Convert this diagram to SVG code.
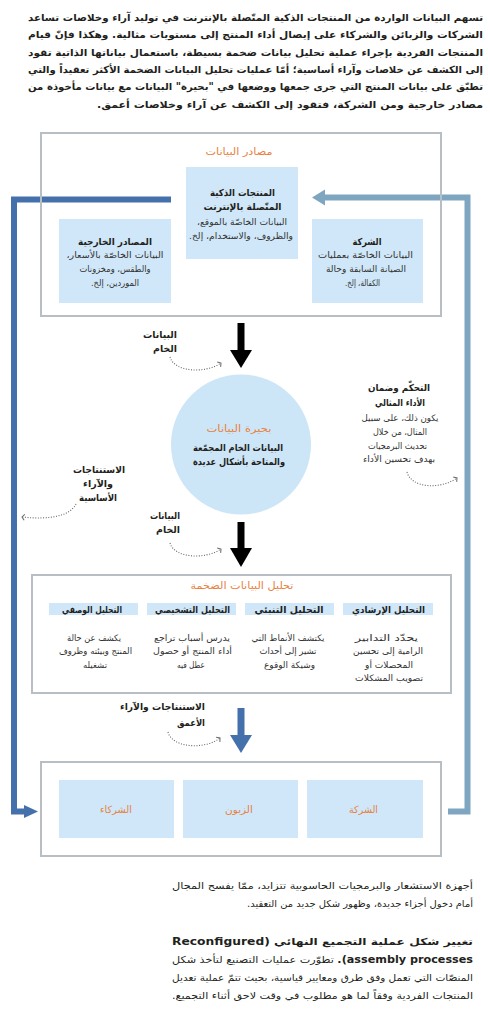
<svg xmlns="http://www.w3.org/2000/svg" width="490" height="1024" viewBox="0 0 490 1024">
<style>
text{font-family:"DejaVu Sans",sans-serif;fill:#231f20;direction:rtl;unicode-bidi:embed;text-anchor:middle}
.b{font-weight:bold}
.o{fill:#e8823f}
.p{font-size:9.8px;font-weight:bold}
.q{font-size:9.6px}
.h{font-size:9.5px;font-weight:bold}
.s{font-size:8.8px;fill:#333}
.ti{font-size:10px}
.box{fill:#cfe7f8}
.frame{fill:none;stroke:#b7bec4;stroke-width:2}
.dot{fill:none;stroke:#666;stroke-width:1.1;stroke-dasharray:1 1.6;marker-end:url(#m)}
</style>
<defs>
<marker id="m" markerWidth="8" markerHeight="8" refX="4" refY="4" orient="auto" markerUnits="userSpaceOnUse">
<path d="M1.5,1 L4,4 L1.5,7" fill="none" stroke="#666" stroke-width="1"/>
</marker>
</defs>
<rect width="490" height="1024" fill="#fff"/>

<g id="intro">
<text class="p" x="255.5" y="21" textLength="455" lengthAdjust="spacingAndGlyphs">تسهم البيانات الواردة من المنتجات الذكية المتّصلة بالإنترنت في توليد آراء وخلاصات تساعد</text>
<text class="p" x="255.5" y="38.3" textLength="455" lengthAdjust="spacingAndGlyphs">الشركات والزبائن والشركاء على إيصال أداء المنتج إلى مستويات مثالية. وهكذا فإنّ قيام</text>
<text class="p" x="255.5" y="55.6" textLength="455" lengthAdjust="spacingAndGlyphs">المنتجات الفردية بإجراء عملية تحليل بيانات ضخمة بسيطة، باستعمال بياناتها الذاتية تقود</text>
<text class="p" x="255.5" y="72.9" textLength="455" lengthAdjust="spacingAndGlyphs">إلى الكشف عن خلاصات وآراء أساسية؛ أمّا عمليات تحليل البيانات الضخمة الأكثر تعقيداً والتي</text>
<text class="p" x="255.5" y="90.2" textLength="455" lengthAdjust="spacingAndGlyphs">تطبّق على بيانات المنتج التي جرى جمعها ووضعها في "بحيرة" البيانات مع بيانات مأخوذة من</text>
<text class="p" x="290" y="107.5" textLength="386" lengthAdjust="spacingAndGlyphs">مصادر خارجية ومن الشركة، فتقود إلى الكشف عن آراء وخلاصات أعمق.</text>
</g>

<g id="connectors">
<polyline points="171,199.5 14,199.5 14,811.5 25,811.5" fill="none" stroke="#4470ab" stroke-width="6"/>
<polygon points="24,805 38,811.5 24,818" fill="#4470ab"/>
<polyline points="448,811.5 467.5,811.5 467.5,197.5 324,197.5" fill="none" stroke="#7fa6c0" stroke-width="6"/>
<polygon points="325,189.5 312,197.5 325,205.5" fill="#7fa6c0"/>
<rect x="237.5" y="323" width="7" height="29" fill="#000"/>
<polygon points="230,350 252,350 241,368" fill="#000"/>
<rect x="237.5" y="522" width="7" height="27" fill="#000"/>
<polygon points="230,548 252,548 241,567" fill="#000"/>
<rect x="237.5" y="708" width="7" height="28" fill="#4470ab"/>
<polygon points="230,735 252,735 241,753" fill="#4470ab"/>
<path class="dot" d="M170,357 C174,372 205,374 221,363"/>
<path class="dot" d="M170,543 C174,558 205,560 221,549"/>
<path class="dot" d="M168,732 C172,748 205,750 220,738"/>
<path class="dot" d="M407,472 C411,488 440,490 457,478"/>
<path class="dot" d="M76,504 C70,516 50,520 22,517"/>
<text class="h" x="160" y="338" textLength="34" lengthAdjust="spacingAndGlyphs">البيانات</text>
<text class="h" x="165" y="352" textLength="24" lengthAdjust="spacingAndGlyphs">الخام</text>
<text class="h" x="165" y="519" textLength="30" lengthAdjust="spacingAndGlyphs">البيانات</text>
<text class="h" x="168" y="533" textLength="24" lengthAdjust="spacingAndGlyphs">الخام</text>
<text class="h" x="162.5" y="710" textLength="85" lengthAdjust="spacingAndGlyphs">الاستنتاجات والآراء</text>
<text class="h" x="191" y="725.5" textLength="28" lengthAdjust="spacingAndGlyphs">الأعمق</text>
<text class="h" x="99" y="473" textLength="52" lengthAdjust="spacingAndGlyphs">الاستنتاجات</text>
<text class="h" x="98" y="487" textLength="30" lengthAdjust="spacingAndGlyphs">والآراء</text>
<text class="h" x="98" y="501" textLength="38" lengthAdjust="spacingAndGlyphs">الأساسية</text>
<text class="h" x="399" y="391" textLength="62" lengthAdjust="spacingAndGlyphs">التحكّم وضمان</text>
<text class="h" x="400" y="406" textLength="50" lengthAdjust="spacingAndGlyphs">الأداء المثالي</text>
<text class="s" x="400" y="420.5" textLength="77" lengthAdjust="spacingAndGlyphs">يكون ذلك، على سبيل</text>
<text class="s" x="400" y="435" textLength="54" lengthAdjust="spacingAndGlyphs">المثال، من خلال</text>
<text class="s" x="397.5" y="448.5" textLength="59" lengthAdjust="spacingAndGlyphs">تحديث البرمجيات</text>
<text class="s" x="399" y="462" textLength="72" lengthAdjust="spacingAndGlyphs">بهدف تحسين الأداء</text>
</g>

<g id="data-sources">
<rect class="frame" x="41" y="133" width="400" height="183"/>
<text class="ti o" x="239" y="155" textLength="67" lengthAdjust="spacingAndGlyphs">مصادر البيانات</text>
</g>

<g id="smart-products">
<rect class="box" x="186" y="167" width="112" height="92"/>
<text class="h" x="242.5" y="196" textLength="65" lengthAdjust="spacingAndGlyphs">المنتجات الذكية</text>
<text class="h" x="242.5" y="210" textLength="78" lengthAdjust="spacingAndGlyphs">المتّصلة بالإنترنت</text>
<text class="s" x="242" y="224.5" textLength="90" lengthAdjust="spacingAndGlyphs">البيانات الخاصّة بالموقع،</text>
<text class="s" x="241" y="238.5" textLength="104" lengthAdjust="spacingAndGlyphs">والظروف، والاستخدام، إلخ.</text>
</g>

<g id="external-sources">
<rect class="box" x="59" y="219" width="112" height="84"/>
<text class="h" x="115" y="245" textLength="74" lengthAdjust="spacingAndGlyphs">المصادر الخارجية</text>
<text class="s" x="115" y="258" textLength="97" lengthAdjust="spacingAndGlyphs">البيانات الخاصّة بالأسعار،</text>
<text class="s" x="115" y="271.5" textLength="71" lengthAdjust="spacingAndGlyphs">والطقس، ومخزونات</text>
<text class="s" x="115" y="286" textLength="48" lengthAdjust="spacingAndGlyphs">الموردين، إلخ.</text>
</g>

<g id="company-source">
<rect class="box" x="312" y="219" width="111" height="84"/>
<text class="h" x="367" y="245" textLength="29" lengthAdjust="spacingAndGlyphs">الشركة</text>
<text class="s" x="365.5" y="258" textLength="95" lengthAdjust="spacingAndGlyphs">البيانات الخاصّة بعمليات</text>
<text class="s" x="366" y="271.5" textLength="80" lengthAdjust="spacingAndGlyphs">الصيانة السابقة وحالة</text>
<text class="s" x="362.5" y="286" textLength="35" lengthAdjust="spacingAndGlyphs">الكفالة، إلخ.</text>
</g>

<g id="data-lake">
<circle cx="241" cy="444.5" r="70" fill="#cde6f7"/>
<text class="ti o" x="239" y="432" textLength="65" lengthAdjust="spacingAndGlyphs">بحيرة البيانات</text>
<text class="h" x="238" y="451" textLength="90" lengthAdjust="spacingAndGlyphs">البيانات الخام المجمّعة</text>
<text class="h" x="239" y="465" textLength="92" lengthAdjust="spacingAndGlyphs">والمتاحة بأشكال عديدة</text>
</g>

<g id="big-data-analytics">
<rect class="frame" x="32" y="575" width="419" height="118"/>
<text class="ti o" x="242" y="589" textLength="103" lengthAdjust="spacingAndGlyphs">تحليل البيانات الضخمة</text>
</g>

<g id="descriptive">
<rect class="box" x="49" y="603" width="89" height="12"/>
<text class="h" x="92" y="612.5" textLength="60" lengthAdjust="spacingAndGlyphs">التحليل الوصفي</text>
<text class="s" x="94" y="640.5" textLength="54" lengthAdjust="spacingAndGlyphs">يكشف عن حالة</text>
<text class="s" x="95.5" y="654" textLength="73" lengthAdjust="spacingAndGlyphs">المنتج وبيئته وظروف</text>
<text class="s" x="95" y="667.5" textLength="24" lengthAdjust="spacingAndGlyphs">تشغيله</text>
</g>

<g id="diagnostic">
<rect class="box" x="147" y="603" width="89" height="12"/>
<text class="h" x="192.5" y="612.5" textLength="75" lengthAdjust="spacingAndGlyphs">التحليل التشخيصي</text>
<text class="s" x="192" y="640.5" textLength="76" lengthAdjust="spacingAndGlyphs">يدرس أسباب تراجع</text>
<text class="s" x="192.5" y="654" textLength="79" lengthAdjust="spacingAndGlyphs">أداء المنتج أو حصول</text>
<text class="s" x="191" y="667.5" textLength="28" lengthAdjust="spacingAndGlyphs">عطل فيه</text>
</g>

<g id="predictive">
<rect class="box" x="245" y="603" width="89" height="12"/>
<text class="h" x="289" y="612.5" textLength="69" lengthAdjust="spacingAndGlyphs">التحليل التنبئي</text>
<text class="s" x="288" y="640.5" textLength="73" lengthAdjust="spacingAndGlyphs">يكتشف الأنماط التي</text>
<text class="s" x="288" y="654" textLength="57" lengthAdjust="spacingAndGlyphs">تشير إلى أحداث</text>
<text class="s" x="289.5" y="667.5" textLength="51" lengthAdjust="spacingAndGlyphs">وشيكة الوقوع</text>
</g>

<g id="prescriptive">
<rect class="box" x="343" y="603" width="90" height="12"/>
<text class="h" x="388.5" y="612.5" textLength="73" lengthAdjust="spacingAndGlyphs">التحليل الإرشادي</text>
<text class="s" x="386.5" y="640.5" textLength="63" lengthAdjust="spacingAndGlyphs">يحدّد التدابير</text>
<text class="s" x="388" y="654" textLength="70" lengthAdjust="spacingAndGlyphs">الرامية إلى تحسين</text>
<text class="s" x="389" y="667.5" textLength="48" lengthAdjust="spacingAndGlyphs">المحصلات أو</text>
<text class="s" x="389" y="681" textLength="68" lengthAdjust="spacingAndGlyphs">تصويب المشكلات</text>
</g>

<g id="stakeholders">
<rect class="frame" x="41" y="762" width="400" height="94"/>
</g>
<g id="partners">
<rect class="box" x="59" y="780" width="115" height="58"/>
<text class="ti o" x="116" y="813" textLength="32" lengthAdjust="spacingAndGlyphs">الشركاء</text>
</g>
<g id="customer">
<rect class="box" x="183" y="780" width="115" height="58"/>
<text class="ti o" x="239" y="813" textLength="28" lengthAdjust="spacingAndGlyphs">الزبون</text>
</g>
<g id="company">
<rect class="box" x="307" y="780" width="116" height="58"/>
<text class="ti o" x="363.5" y="813" textLength="29" lengthAdjust="spacingAndGlyphs">الشركة</text>
</g>

<g id="body-text">
<text class="q" x="322.5" y="889" textLength="301" lengthAdjust="spacingAndGlyphs">أجهزة الاستشعار والبرمجيات الحاسوبية تتزايد، ممّا يفسح المجال</text>
<text class="q" x="360" y="907" textLength="226" lengthAdjust="spacingAndGlyphs">أمام دخول أجزاء جديدة، وظهور شكل جديد من التعقيد.</text>
<text class="q b" x="322.5" y="945" textLength="301" lengthAdjust="spacingAndGlyphs">تغيير شكل عملية التجميع النهائي (Reconfigured</text>
<text class="q" x="322.5" y="963" textLength="301" lengthAdjust="spacingAndGlyphs"><tspan class="b">assembly processes).</tspan> تطوّرت عمليات التصنيع لتأخذ شكل</text>
<text class="q" x="322.5" y="981" textLength="301" lengthAdjust="spacingAndGlyphs">المنصّات التي تعمل وفق طرق ومعايير قياسية، بحيث تتمّ عملية تعديل</text>
<text class="q" x="322.5" y="999" textLength="301" lengthAdjust="spacingAndGlyphs">المنتجات الفردية وفقاً لما هو مطلوب في وقت لاحق أثناء التجميع.</text>
</g>
</svg>
